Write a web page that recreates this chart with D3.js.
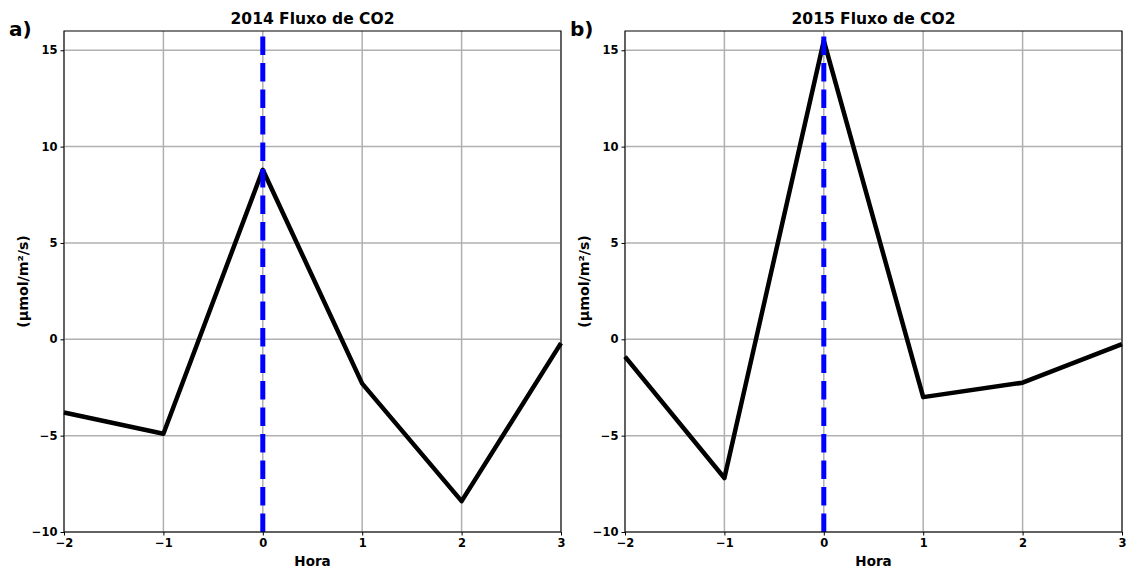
<!DOCTYPE html>
<html>
<head>
<meta charset="utf-8">
<script src="https://cdn.jsdelivr.net/npm/d3@7"></script>
<style>
  body { margin: 0; background: #fff; }
  text { font-family: "DejaVu Sans", sans-serif; font-weight: bold; }
</style>
</head>
<body>
<svg id="chart" width="1129" height="572"></svg>
<script>
var horas = [-2, -1, 0, 1, 2, 3];
var fluxo2014 = [-3.8, -4.9, 8.8, -2.3, -8.4, -0.2];
var fluxo2015 = [-0.9, -7.2, 15.5, -3.0, -2.25, -0.25];
var yTicks = [-10, -5, 0, 5, 10, 15];
var titulos = ["2014 Fluxo de CO2", "2015 Fluxo de CO2"];
var letras = ["a)", "b)"];

var svg = d3.select("#chart");
var plotTop = 31, plotBottom = 532;
var paineis = [
  { left: 64, right: 561, dados: fluxo2014 },
  { left: 625, right: 1122, dados: fluxo2015 }
];

paineis.forEach(function(p, i) {
  var x = d3.scaleLinear().domain([-2, 3]).range([p.left, p.right]);
  var y = d3.scaleLinear().domain([-10, 16]).range([plotBottom, plotTop]);
  var g = svg.append("g");

  // grid
  g.selectAll(".gx").data(horas).enter().append("line")
    .attr("x1", function(d) { return x(d); }).attr("x2", function(d) { return x(d); })
    .attr("y1", plotTop).attr("y2", plotBottom)
    .attr("stroke", "#b0b0b0").attr("stroke-width", 1.5);
  g.selectAll(".gy").data(yTicks).enter().append("line")
    .attr("x1", p.left).attr("x2", p.right)
    .attr("y1", function(d) { return y(d); }).attr("y2", function(d) { return y(d); })
    .attr("stroke", "#b0b0b0").attr("stroke-width", 1.5);

  // series
  var line = d3.line()
    .x(function(d, j) { return x(horas[j]); })
    .y(function(d) { return y(d); });
  g.append("path")
    .datum(p.dados)
    .attr("d", line)
    .attr("fill", "none")
    .attr("stroke", "#000")
    .attr("stroke-width", 4.5)
    .attr("stroke-linejoin", "round");

  // vertical dashed line at 0 (drawn over the series)
  g.append("line")
    .attr("x1", x(0)).attr("x2", x(0))
    .attr("y1", plotBottom).attr("y2", plotTop)
    .attr("stroke", "#0000ff").attr("stroke-width", 5)
    .attr("stroke-dasharray", "18.5,8");

  // frame
  g.append("rect")
    .attr("x", p.left).attr("y", plotTop)
    .attr("width", p.right - p.left).attr("height", plotBottom - plotTop)
    .attr("fill", "none").attr("stroke", "#000").attr("stroke-width", 1);

  // axes
  var fmt = function(d) { return d < 0 ? "\u2212" + Math.abs(d) : d; };
  var xAxis = d3.axisBottom(x).tickValues(horas).tickSize(3.5).tickPadding(3).tickFormat(fmt);
  var yAxis = d3.axisLeft(y).tickValues(yTicks).tickSize(3.5).tickPadding(3).tickFormat(fmt);
  var gx = g.append("g").attr("transform", "translate(0," + plotBottom + ")").call(xAxis);
  var gy = g.append("g").attr("transform", "translate(" + p.left + ",0)").call(yAxis);
  [gx, gy].forEach(function(a) {
    a.select(".domain").remove();
    a.selectAll("text").style("font-size", "11.5px").style("font-weight", "bold").attr("fill", "#000");
    a.selectAll("line").attr("stroke", "#000");
  });

  // labels
  g.append("text").attr("x", (p.left + p.right) / 2).attr("y", plotTop - 7)
    .attr("text-anchor", "middle").style("font-size", "15.5px").text(titulos[i]);
  g.append("text").attr("x", (p.left + p.right) / 2).attr("y", 566)
    .attr("text-anchor", "middle").style("font-size", "13.5px").text("Hora");
  g.append("text")
    .attr("transform", "translate(" + (p.left - 36) + "," + ((plotTop + plotBottom) / 2) + ") rotate(-90)")
    .attr("text-anchor", "middle").style("font-size", "14.2px").text("(\u00b5mol/m\u00b2/s)");
  g.append("text").attr("x", p.left - 55).attr("y", 36)
    .style("font-size", "20px").text(letras[i]);
});
</script>
</body>
</html>
